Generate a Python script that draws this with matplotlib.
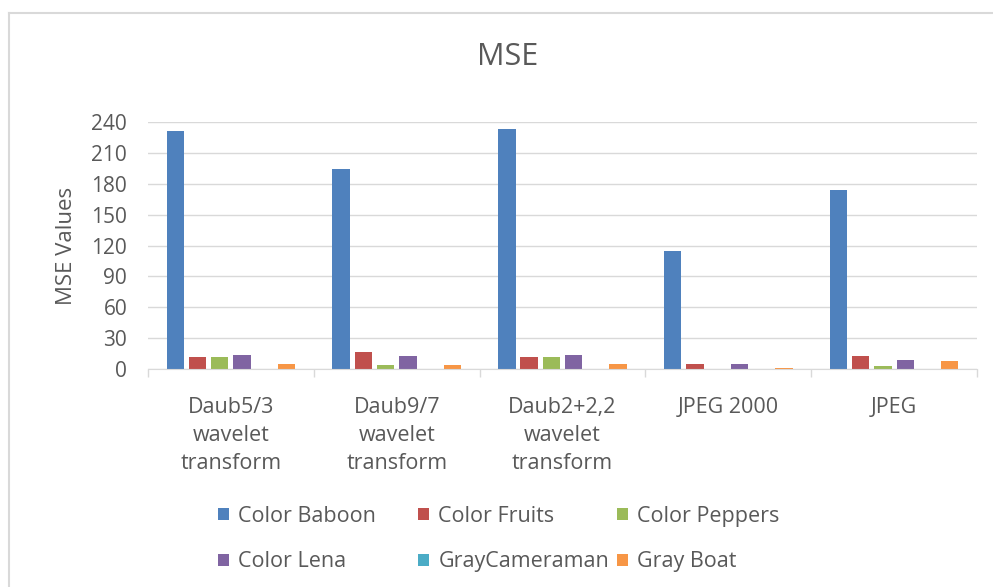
import numpy as np
import matplotlib
matplotlib.use('Agg')
import matplotlib.pyplot as plt
from matplotlib.lines import Line2D
from matplotlib.ticker import FixedLocator

# data
categories = ['Daub5/3\nwavelet\ntransform', 'Daub9/7\nwavelet\ntransform',
              'Daub2+2,2\nwavelet\ntransform', 'JPEG 2000', 'JPEG']
series_names = ['Color Baboon', 'Color Fruits', 'Color Peppers',
                'Color Lena', 'GrayCameraman', 'Gray Boat']
color_baboon = [231.5, 194.0, 232.8, 114.5, 173.8]
color_fruits = [11.4, 16.5, 11.4, 4.9, 12.6]
color_peppers = [11.4, 3.9, 11.4, 0.0, 2.6]
color_lena = [13.9, 12.6, 13.9, 4.9, 8.8]
gray_cameraman = [0.0, 0.0, 0.0, 0.0, 0.0]
gray_boat = [4.9, 3.9, 4.9, 1.3, 7.8]
y_ticks = [0, 30, 60, 90, 120, 150, 180, 210, 240]

colors = ['#4F81BD', '#C0504D', '#9BBB59', '#8064A2', '#4BACC6', '#F79646']
text_col = '#595959'
grid_col = '#D9D9D9'

plt.rcParams['font.family'] = ['Open Sans', 'DejaVu Sans']

fig = plt.figure(figsize=(9.93, 5.87), dpi=100)
ax = fig.add_axes([148 / 993, 1 - 369 / 587, (977 - 148) / 993, (369 - 122) / 587])

allSeries = [color_baboon, color_fruits, color_peppers, color_lena, gray_cameraman, gray_boat]
x = np.arange(len(categories))
pitch = 0.134
barW = 0.105
bars = []
for i, vals in enumerate(allSeries):
    b = ax.bar(x + (i - 2.5) * pitch, vals, width=barW, color=colors[i],
               label=series_names[i], zorder=3)
    bars.append(b)

ax.set_xlim(-0.5, len(categories) - 0.5)
ax.set_ylim(0, 240)
ax.set_yticks(y_ticks)
ax.set_xticks(x)
ax.set_xticklabels(categories, linespacing=1.43)
ax.xaxis.set_minor_locator(FixedLocator(np.arange(-0.5, len(categories), 1.0)))

ax.grid(axis='y', color=grid_col, linewidth=1, zorder=0)
for s in ['top', 'right', 'left']:
    ax.spines[s].set_visible(False)
ax.spines['bottom'].set_color(grid_col)
ax.spines['bottom'].set_zorder(4)

ax.tick_params(axis='y', length=0, pad=15, labelsize=15, labelcolor=text_col)
ax.tick_params(axis='x', which='major', length=0, pad=20, labelsize=15.5, labelcolor=text_col)
ax.tick_params(axis='x', which='minor', length=6, color=grid_col, width=1)

ax.set_ylabel('MSE Values', fontsize=16, color=text_col, labelpad=10)
fig.text(508 / 993, 1 - 57 / 587, 'MSE', ha='center', va='center', fontsize=22, color=text_col)

# legend: three fixed columns, filled row by row like the original
legX = [218, 418, 617]
for c in range(3):
    leg = fig.legend([bars[c], bars[c + 3]], [series_names[c], series_names[c + 3]],
                     loc='center left', bbox_to_anchor=(legX[c] / 993, 1 - 539 / 587),
                     frameon=False, fontsize=15.5, handlelength=0.5, handleheight=0.5,
                     handletextpad=0.45, labelspacing=1.15, borderpad=0, borderaxespad=0,
                     labelcolor=text_col)

# chart border (top and left edges visible)
fig.add_artist(Line2D([9 / 993, 9 / 993], [0, 1 - 13 / 587], color=grid_col, linewidth=1.5))
fig.add_artist(Line2D([9 / 993, 1], [1 - 13 / 587, 1 - 13 / 587], color=grid_col, linewidth=1.5))

fig.savefig('out.png', dpi=100)
